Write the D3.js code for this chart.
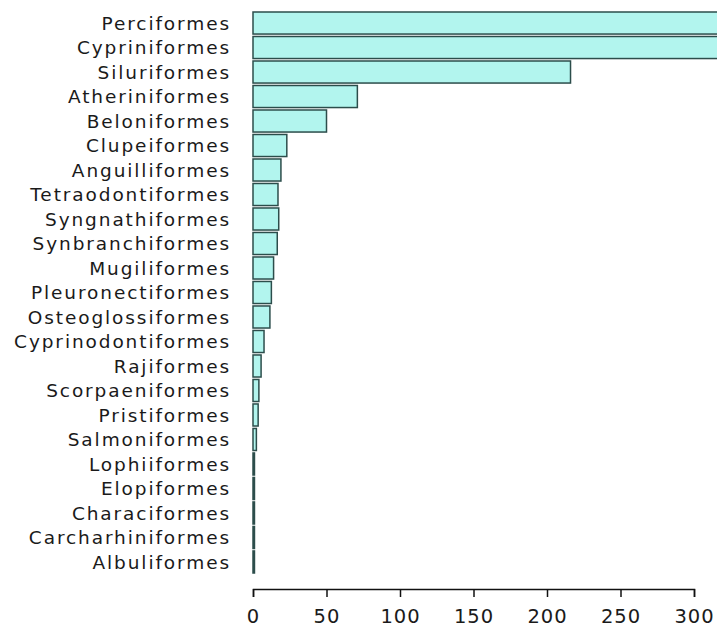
<!DOCTYPE html>
<html>
<head>
<meta charset="utf-8">
<script src="https://cdn.jsdelivr.net/npm/d3@7"></script>
<style>
    body { margin: 0; background: #fff; }
    text { font-family: "DejaVu Sans", sans-serif; fill: #1a1a1a; }
</style>
</head>
<body>
<div id="chart"></div>
<script>
const orders = ["Perciformes", "Cypriniformes", "Siluriformes", "Atheriniformes", "Beloniformes",
    "Clupeiformes", "Anguilliformes", "Tetraodontiformes", "Syngnathiformes", "Synbranchiformes",
    "Mugiliformes", "Pleuronectiformes", "Osteoglossiformes", "Cyprinodontiformes", "Rajiformes",
    "Scorpaeniformes", "Pristiformes", "Salmoniformes", "Lophiiformes", "Elopiformes",
    "Characiformes", "Carcharhiniformes", "Albuliformes"];
const speciesCounts = [350, 335, 216, 71, 50, 23, 19, 17, 17.5, 16.5, 14, 12.5, 11.5, 7.5, 5.5,
    4, 3.5, 2.3, 1, 1, 1, 1, 1];
const xTicks = [0, 50, 100, 150, 200, 250, 300];

const width = 717, height = 627;

const svg = d3.select("#chart").append("svg")
    .attr("width", width)
    .attr("height", height);

const x = d3.scaleLinear()
    .domain([0, 300])
    .range([253, 694]);

const y = d3.scaleBand()
    .domain(orders)
    .range([12, 573])
    .paddingInner(0.1);

// bars
svg.selectAll("rect.bar")
    .data(orders)
    .enter().append("rect")
    .attr("class", "bar")
    .attr("x", x(0))
    .attr("y", d => y(d))
    .attr("width", (d, i) => Math.max(x(speciesCounts[i]) - x(0), 1))
    .attr("height", y.bandwidth())
    .attr("fill", "#b2f5ee")
    .attr("stroke", "#2c4d4b")
    .attr("stroke-width", 1.5);

// category labels
svg.selectAll("text.label")
    .data(orders)
    .enter().append("text")
    .attr("class", "label")
    .attr("x", 231)
    .attr("y", d => y(d) + y.bandwidth() / 2)
    .attr("dy", "0.36em")
    .attr("text-anchor", "end")
    .style("font-size", "18.5px")
    .style("letter-spacing", "1.9px")
    .text(d => d);

// x axis
const xAxis = svg.append("g")
    .attr("transform", "translate(0,589)")
    .call(d3.axisBottom(x).tickValues(xTicks).tickSize(8).tickPadding(12));

xAxis.select(".domain").attr("stroke", "#111").attr("stroke-width", 1.5);
xAxis.selectAll(".tick line").attr("stroke", "#111").attr("stroke-width", 1.5);
xAxis.selectAll(".tick text")
    .style("font-size", "19.5px")
    .style("font-family", "DejaVu Sans, sans-serif")
    .style("letter-spacing", "1px")
    .attr("fill", "#1a1a1a");
</script>
</body>
</html>
